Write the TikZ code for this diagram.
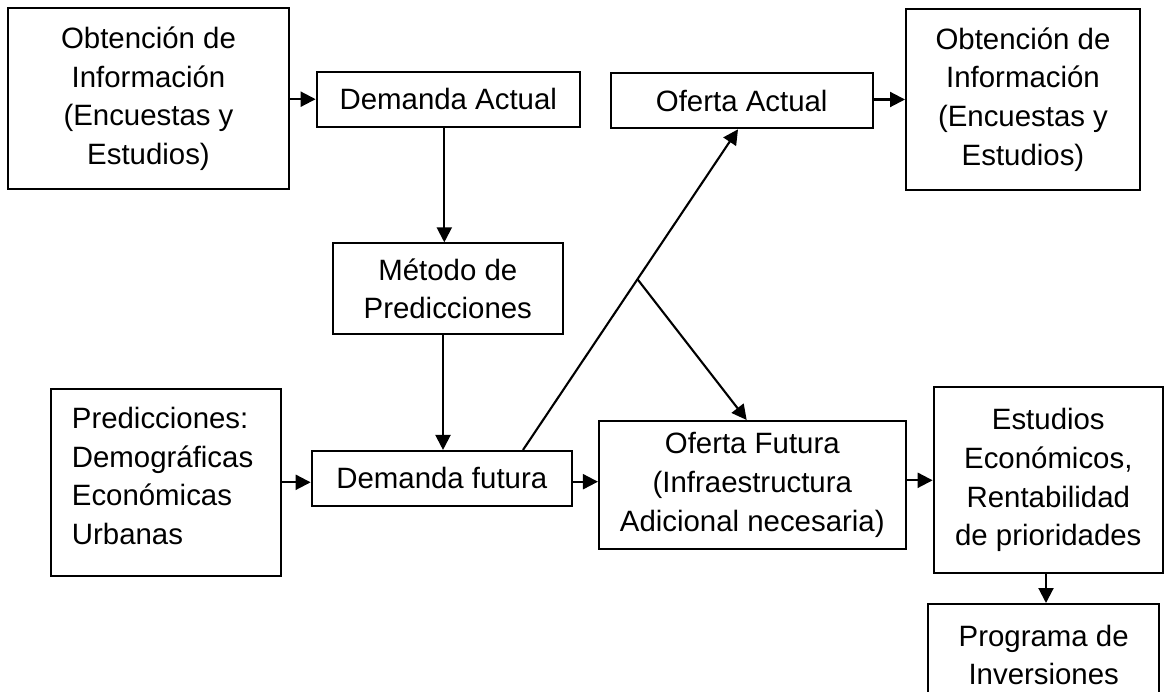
\documentclass[tikz,border=0pt]{standalone}
\usepackage{fontspec}
\setmainfont{Liberation Sans}
\usetikzlibrary{arrows.meta,calc}
\tikzset{
  box/.style={draw, line width=2pt, inner sep=0pt, align=center,
    font=\fontsize{29.4pt}{38.7pt}\selectfont},
  txt/.style={inner sep=0pt, align=left, font=\fontsize{29.4pt}{38.7pt}\selectfont},
  arr/.style={line width=2.1pt, -{Triangle[length=15pt,width=15pt]}}
}
\begin{document}
\begin{tikzpicture}[x=1pt,y=-1pt]
\useasboundingbox (0,0) rectangle (1167,692);
\clip (0,0) rectangle (1167,692);
\fill[white] (0,0) rectangle (1167,692);

\node[box, minimum width=280.4pt, minimum height=181pt] (obt1) at (148.5,98.8)
  {Obtención de\\Información\\(Encuestas y\\Estudios)};
\node[box, minimum width=263.3pt, minimum height=55pt] (dact) at (448.3,99.2)
  {Demanda Actual};
\node[box, minimum width=262pt, minimum height=55pt] (oact) at (741.7,100.8)
  {Oferta Actual};
\node[box, minimum width=234pt, minimum height=181pt] (obt2) at (1023,99.5)
  {Obtención de\\Información\\(Encuestas y\\Estudios)};
\node[box, minimum width=230.3pt, minimum height=90.7pt] (metodo) at (447.8,288.7)
  {Método de\\Predicciones};
\node[box, minimum width=230.3pt, minimum height=186.7pt] (pred) at (165.8,482.3) {};
\node[txt, anchor=west] (predtxt) at (71.7,476)
  {Predicciones:\\Demográficas\\Económicas\\Urbanas};
\node[box, minimum width=260.3pt, minimum height=54.7pt] (dfut) at (441.8,478.3)
  {Demanda futura};
\node[box, minimum width=306.7pt, minimum height=128pt] (ofut) at (752.3,485)
  {Oferta Futura\\(Infraestructura\\Adicional necesaria)};
\node[box, minimum width=229.3pt, minimum height=186pt] (estud) at (1048.3,480.3)
  {Estudios\\Económicos,\\Rentabilidad\\de prioridades};
\node[box, minimum width=231.3pt, minimum height=102pt] (prog) at (1043.7,655)
  {Programa de\\Inversiones};

% connectors
\draw[arr] (obt1.east |- dact.west) -- (dact.west);
\draw[arr] ([xshift=-4pt]dact.south) -- ([xshift=-4pt]dact.south |- metodo.north);
\draw[arr] ([xshift=-4.8pt]metodo.south) -- ([xshift=-4.8pt]metodo.south |- dfut.north);
\draw[arr] (pred.east) -- (pred.east -| dfut.west);
\draw[arr] ([xshift=-1.5pt,yshift=-3.4pt]dfut.east) -- ([yshift=-3.4pt]dfut.east -| ofut.west);
\draw[arr] (ofut.east |- estud.west) -- (estud.west);
\draw[arr] ([xshift=-2.3pt]estud.south) -- ([xshift=-2.3pt]estud.south |- prog.north);
\draw[arr] (oact.east |- obt2.west) -- (obt2.west);

\coordinate (dstart) at ([xshift=81.2pt]dfut.north);
\coordinate (dend) at ([xshift=-3.7pt]oact.south);
\coordinate (br) at ($(dstart)!0.5325!(dend)$);
\draw[arr] (dstart) -- (dend);
\draw[arr] (br) -- ([xshift=-5.6pt]ofut.north);
\end{tikzpicture}
\end{document}
